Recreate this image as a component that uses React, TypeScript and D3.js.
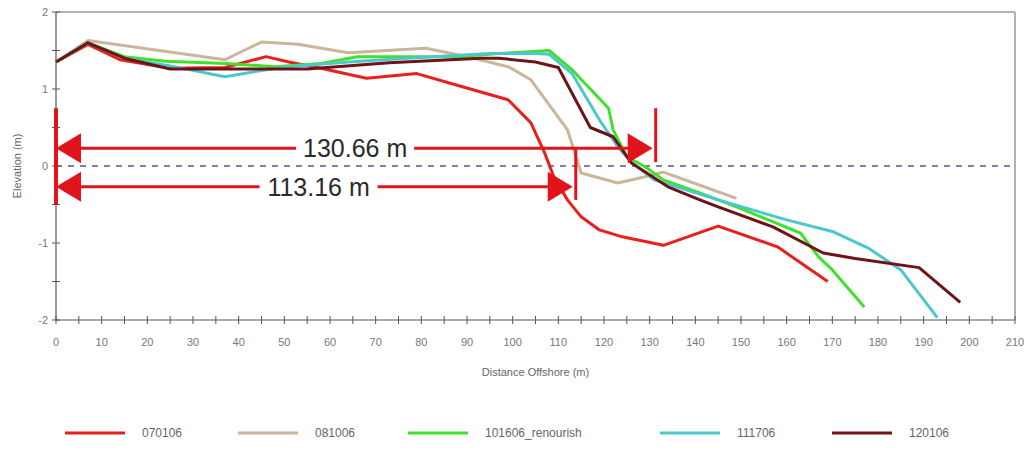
import React from "react";
import * as d3 from "d3";

type Pt = [number, number];

const seriesNames = ["070106", "081006", "101606_renourish", "111706", "120106"];
const seriesColors = ["#e8201c", "#cbb69c", "#3fe22a", "#4cc8cc", "#6e1418"];

const s070106: Pt[] = [[0,1.35],[7,1.58],[14,1.38],[25,1.27],[37,1.28],[46,1.42],[51,1.35],[58,1.27],[68,1.14],[79,1.2],[89,1.03],[99,0.86],[104,0.56],[107,0.17],[109,-0.14],[112,-0.44],[115,-0.66],[119,-0.83],[124,-0.92],[133,-1.03],[145,-0.78],[158,-1.05],[169,-1.5]];
const s081006: Pt[] = [[0,1.35],[7,1.63],[37,1.38],[45,1.61],[53,1.58],[64,1.47],[81,1.53],[90,1.42],[99,1.29],[104,1.12],[112,0.47],[115,-0.09],[123,-0.22],[129,-0.14],[133,-0.08],[141,-0.25],[149,-0.42]];
const s101606: Pt[] = [[0,1.35],[7,1.6],[15,1.42],[24,1.36],[37,1.33],[48,1.29],[58,1.33],[66,1.42],[78,1.42],[88,1.42],[97,1.46],[108,1.5],[113,1.25],[121,0.75],[122,0.47],[125,0.12],[129,-0.01],[133,-0.18],[141,-0.35],[149,-0.53],[156,-0.7],[163,-0.87],[167,-1.18],[170,-1.35],[177,-1.83]];
const s111706: Pt[] = [[0,1.35],[7,1.6],[15,1.4],[25,1.3],[37,1.16],[46,1.25],[51,1.29],[64,1.35],[77,1.4],[95,1.46],[105,1.46],[108,1.45],[113,1.2],[119,0.6],[123,0.25],[126,0.05],[131,-0.18],[145,-0.44],[160,-0.7],[170,-0.85],[178,-1.07],[185,-1.35],[193,-1.97]];
const s120106: Pt[] = [[0,1.35],[7,1.6],[15,1.4],[25,1.26],[46,1.26],[55,1.26],[73,1.34],[93,1.4],[97,1.4],[105,1.35],[110,1.28],[117,0.5],[122,0.38],[126,0.04],[134,-0.27],[141,-0.44],[145,-0.53],[157,-0.79],[168,-1.13],[175,-1.2],[189,-1.32],[198,-1.77]];

const allSeries = [s070106, s081006, s101606, s111706, s120106];

const xTicks = d3.range(0, 211, 10);
const xMinor = d3.range(0, 211, 5);
const yTicks = [-2, -1, 0, 1, 2];
const yMinor = d3.range(-2, 2.01, 0.5);

const annotations = [
  { value: 130.66, label: "130.66 m", y: 0.23, top: 0.75, bottom: 0.05, labelX: 65.5 },
  { value: 113.16, label: "113.16 m", y: -0.27, top: 0.23, bottom: -0.44, labelX: 57.5 },
];

const x = d3.scaleLinear().domain([0, 210]).range([56, 1015]);
const y = d3.scaleLinear().domain([-2, 2]).range([320, 12]);

export default function App() {
  const line = d3.line<Pt>().x((d) => x(d[0])).y((d) => y(d[1]));
  const red = "#e0141a";
  const font = "Arial, 'Liberation Sans', sans-serif";
  const legendX = [65, 238, 408, 660, 832];
  return (
    <svg width={1024} height={452} style={{ position: "fixed", left: 0, top: 0, background: "#fff" }} fontFamily={font}>
      <rect x={0} y={0} width={1024} height={452} fill="#fff" />
      <line x1={x(0)} x2={x(210)} y1={y(2)} y2={y(2)} stroke="#999" strokeWidth={1.5} />
      <line x1={x(210)} x2={x(210)} y1={y(2)} y2={y(-2)} stroke="#999" strokeWidth={1.5} />
      <line x1={x(0)} x2={x(210)} y1={y(0)} y2={y(0)} stroke="#7f7fb0" strokeWidth={2} strokeDasharray="6,6" />
      {allSeries.map((s, i) => (
        <path key={i} d={line(s) || ""} fill="none" stroke={seriesColors[i]} strokeWidth={3} strokeLinejoin="round" />
      ))}
      <line x1={x(0)} x2={x(0)} y1={y(2)} y2={y(-2)} stroke="#555" strokeWidth={1.2} />
      <line x1={x(0)} x2={x(210)} y1={y(-2)} y2={y(-2)} stroke="#555" strokeWidth={1.2} />
      {xMinor.map((t) => (
        <line key={"xm" + t} x1={x(t)} x2={x(t)} y1={y(-2) - 4} y2={y(-2) + 4} stroke="#555" strokeWidth={1} />
      ))}
      {yMinor.map((t) => (
        <line key={"ym" + t} x1={x(0) - 4} x2={x(0) + 4} y1={y(t)} y2={y(t)} stroke="#555" strokeWidth={1} />
      ))}
      {xTicks.map((t) => (
        <text key={"xt" + t} x={x(t)} y={346} textAnchor="middle" fontSize={11} fill="#777">{t}</text>
      ))}
      {yTicks.map((t) => (
        <text key={"yt" + t} x={48} y={y(t) + 4} textAnchor="end" fontSize={11} fill="#777">{t}</text>
      ))}
      <text x={(x(0) + x(210)) / 2} y={376} textAnchor="middle" fontSize={11} fill="#666">Distance Offshore (m)</text>
      <text transform={`translate(21,${y(0)}) rotate(-90)`} textAnchor="middle" fontSize={11} fill="#666">Elevation (m)</text>
      <line x1={x(0)} x2={x(0)} y1={y(0.75)} y2={y(-0.5)} stroke={red} strokeWidth={4} />
      {annotations.map((a, i) => {
        const yy = y(a.y);
        const x0 = x(0);
        const x1 = x(a.value);
        const tw = 108;
        const lx = x(a.labelX);
        return (
          <g key={"an" + i}>
            <line x1={x0 + 20} x2={x1 - 20} y1={yy} y2={yy} stroke={red} strokeWidth={3} />
            <rect x={lx - tw / 2 - 5} y={yy - 14} width={tw + 10} height={28} fill="#fff" />
            <text x={lx} y={yy + 9} textAnchor="middle" fontSize={25} fill="#2a2a2a">{a.label}</text>
            <polygon points={`${x0},${yy} ${x0 + 25},${yy - 15} ${x0 + 25},${yy + 15}`} fill={red} />
            <polygon points={`${x1},${yy} ${x1 - 25},${yy - 15} ${x1 - 25},${yy + 15}`} fill={red} />
            <line x1={x1 + 3} x2={x1 + 3} y1={y(a.top)} y2={y(a.bottom)} stroke={red} strokeWidth={3} />
          </g>
        );
      })}
      {seriesNames.map((n, i) => (
        <g key={"lg" + i}>
          <line x1={legendX[i]} x2={legendX[i] + 60} y1={433} y2={433} stroke={seriesColors[i]} strokeWidth={3} />
          <text x={legendX[i] + 77} y={437} fontSize={12} fill="#666">{n}</text>
        </g>
      ))}
    </svg>
  );
}
